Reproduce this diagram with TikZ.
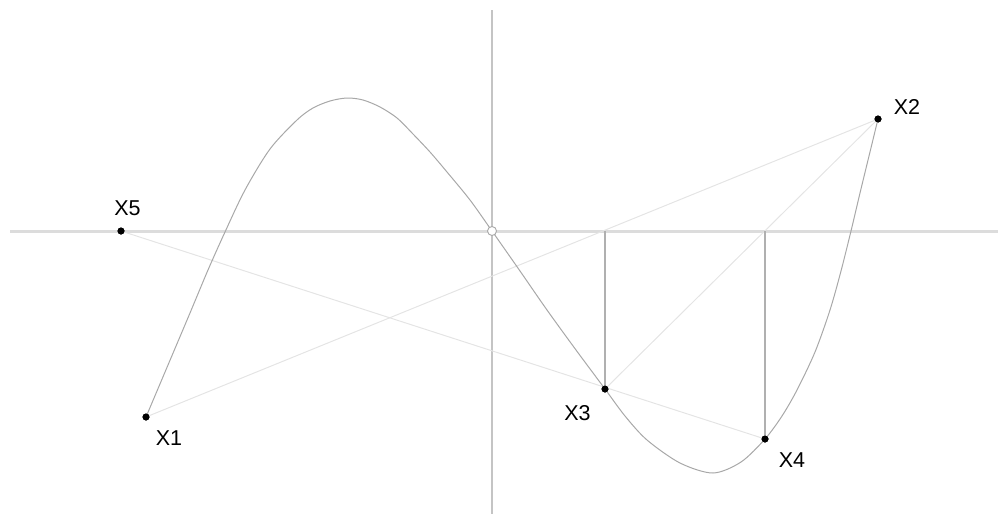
\documentclass[tikz,border=0pt]{standalone}
\usepackage{fontspec}
\setmainfont{Liberation Sans}
\definecolor{curvegray}{HTML}{A8A8A8}
\definecolor{haxis}{HTML}{DCDCDC}
\definecolor{vaxis}{HTML}{C4C4C4}
\definecolor{secant}{HTML}{E4E4E4}
\definecolor{dropgray}{HTML}{B0B0B0}
\begin{document}
\begin{tikzpicture}[x=1pt,y=-1pt,
  dot/.style={circle,fill=black,inner sep=0pt,minimum size=7pt},
  lbl/.style={inner sep=0pt,font=\fontsize{21.5}{26}\selectfont},
  curveline/.style={draw=curvegray,line width=1pt},
  secantline/.style={draw=secant,line width=1pt},
  dropline/.style={draw=dropgray,line width=1.1pt}]
\useasboundingbox (0,0) rectangle (998,514);
% axes
\coordinate (hl) at (10,231);
\coordinate (hr) at (998,231);
\coordinate (vt) at (492,10);
\coordinate (vb) at (492,514);
\draw[haxis,line width=3pt] (hl) -- (hr);
\draw[vaxis,line width=1.5pt] (vt) -- (vb);
% axis feet of the drops
\coordinate (f3) at (605,231);
\coordinate (f4) at (765,231);
% points
\node[dot] (x1) at (146,417) {};
\node[dot] (x2) at (878,119) {};
\node[dot] (x3) at (605,389) {};
\node[dot] (x4) at (765,439) {};
\node[dot] (x5) at (121,231) {};
% secants
\draw[secantline] (x1.center) -- (x2.center);
\draw[secantline] (x2.center) -- (x3.center);
\draw[secantline] (x5.center) -- (x4.center);
% drops
\draw[dropline] (f3) -- (x3.center);
\draw[dropline] (f4) -- (x4.center);
% curve
\draw[curveline] plot[smooth,tension=0.5] coordinates {
 (146,417) (168,365) (190,313) (208,270) (225,232) (245,190) (270,149)
 (297,120) (313,108) (330,101) (347,98) (363,100) (380,107)
 (397,118) (413,134) (430,152) (447,172) (470,200)
 (492,231) (520,271) (547,310) (576,350) (605,389) (625,416) (647,440)
 (680,463) (713,473) (741,462) (765,439) (782,416) (797,390) (815,352)
 (830,310) (841,271) (851,231) (860,193) (869,156) (878,119)};
% origin
\node[circle,draw=curvegray,fill=white,inner sep=0pt,minimum size=9pt,line width=0.9pt] (o) at (492,231) {};
% dots on top
\fill (x1.center) circle (3.5pt);
\fill (x2.center) circle (3.5pt);
\fill (x3.center) circle (3.5pt);
\fill (x4.center) circle (3.5pt);
\fill (x5.center) circle (3.5pt);
% labels
\node[lbl] (l1) at (169,438) {X1};
\node[lbl] (l2) at (907,106.5) {X2};
\node[lbl] (l3) at (577.5,413) {X3};
\node[lbl] (l4) at (792,460) {X4};
\node[lbl] (l5) at (127.5,208) {X5};
\end{tikzpicture}
\end{document}
